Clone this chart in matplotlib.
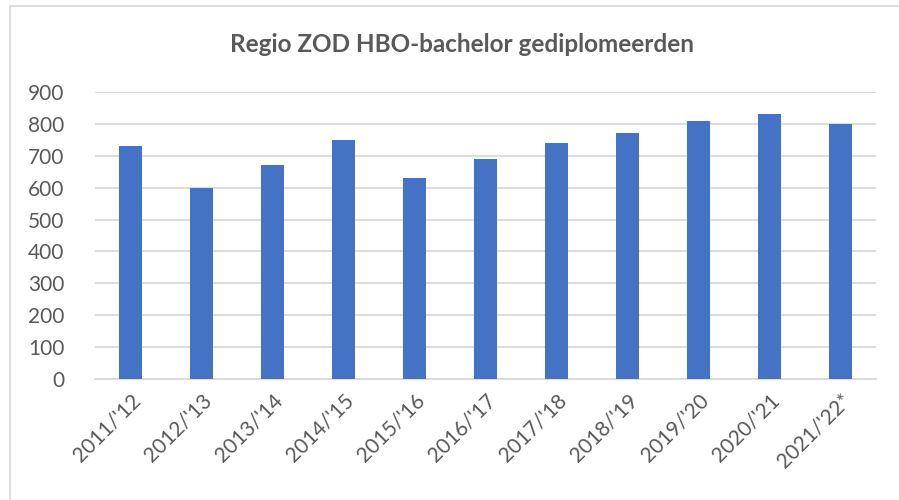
import matplotlib
matplotlib.use("Agg")
import matplotlib.pyplot as plt
import matplotlib.transforms as mtransforms
from matplotlib.patches import Rectangle

categories = ["2011/'12", "2012/'13", "2013/'14", "2014/'15", "2015/'16", "2016/'17",
              "2017/'18", "2018/'19", "2019/'20", "2020/'21", "2021/'22*"]
values = [730, 600, 670, 750, 630, 690, 740, 770, 810, 830, 800]
yticks = [0, 100, 200, 300, 400, 500, 600, 700, 800, 900]
title = "Regio ZOD HBO-bachelor gediplomeerden"

plt.rcParams['font.family'] = ['Lato', 'DejaVu Sans']
W, H = 899, 500
fig = plt.figure(figsize=(W/100, H/100), dpi=100)
fig.patch.set_facecolor('white')

# chart border
fig.add_artist(Rectangle((10/W, -0.2), 1.2, 1.2 - 6/H, transform=fig.transFigure,
                         fill=False, edgecolor='#D9D9D9', linewidth=1.2))

left, right, top, bottom = 95, 876, 92, 379
ax = fig.add_axes([left/W, 1 - bottom/H, (right-left)/W, (bottom-top)/H])
x = range(len(categories))
ax.bar(x, values, width=0.31, color='#4472C4', zorder=3)
ax.set_xlim(-0.5, len(categories) - 0.5)
ax.set_ylim(0, 900)
ax.set_yticks(yticks)
ax.set_yticklabels([str(v) for v in yticks], fontsize=15, color='#595959')
ax.set_xticks(list(x))
ax.set_xticklabels(categories, rotation=45, ha='right', rotation_mode='anchor',
                   fontsize=15, color='#595959')
offset = mtransforms.ScaledTranslation(-5/100, -4/100, fig.dpi_scale_trans)
for lbl in ax.get_xticklabels():
    lbl.set_transform(lbl.get_transform() + offset)
ax.tick_params(axis='both', length=0)
ax.tick_params(axis='y', pad=22)
ax.tick_params(axis='x', pad=8)
ax.grid(axis='y', color='#D9D9D9', linewidth=1.3, zorder=0)
for s in ['top', 'right', 'left']:
    ax.spines[s].set_visible(False)
ax.spines['bottom'].set_color('#D9D9D9')
ax.spines['bottom'].set_linewidth(1.3)

fig.text(462/W, 1 - 45/H, title, ha='center', va='center', fontsize=17.5,
         fontweight='bold', color='#595959')

fig.savefig('out.png', dpi=100, facecolor='white')
